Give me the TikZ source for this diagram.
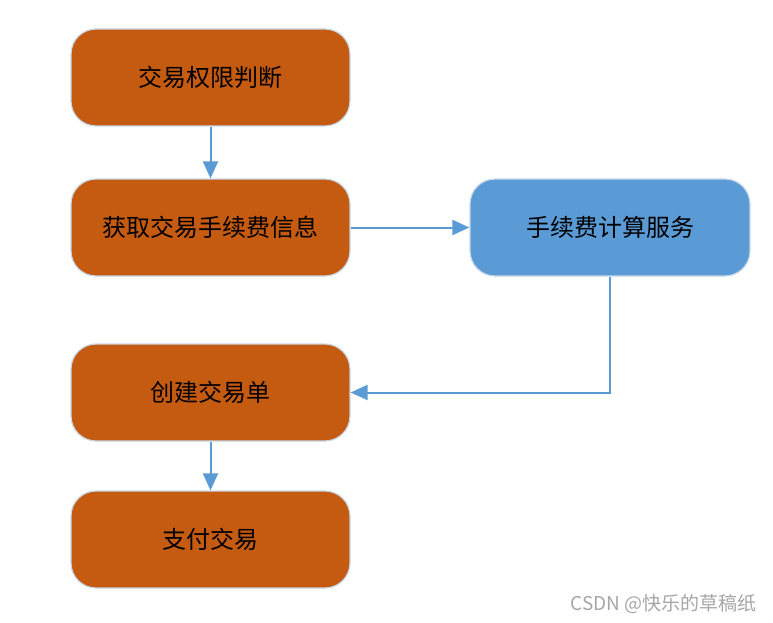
\documentclass[tikz,border=0pt]{standalone}
\usepackage{fontspec}
\setmainfont{Noto Sans CJK SC}
\newfontfamily\cjk{Noto Sans CJK SC}
\usetikzlibrary{arrows.meta}
\definecolor{boxorange}{HTML}{C55A11}
\definecolor{boxblue}{HTML}{5B9BD5}
\definecolor{linkblue}{HTML}{5B9BD5}
\definecolor{edgeglow}{HTML}{C9D8E8}
\definecolor{wmgray}{HTML}{A6A6A6}
\tikzset{
  flowbox/.style={rounded corners=25pt, minimum width=279pt, minimum height=97pt,
    inner sep=0pt, draw=edgeglow, line width=1.2pt, font=\cjk\fontsize{24}{28}\selectfont, text=black},
  orangebox/.style={flowbox, fill=boxorange},
  bluebox/.style={flowbox, fill=boxblue},
  link/.style={draw=linkblue, line width=2pt, -{Triangle[length=17pt,width=15pt]}}
}
\begin{document}
\begin{tikzpicture}[x=1pt,y=-1pt]
\useasboundingbox (0,0) rectangle (773,623);
\node[orangebox] (auth) at (210.5,77.5) {交易权限判断};
\node[orangebox] (fee) at (210.5,227.5) {获取交易手续费信息};
\node[bluebox, minimum width=280pt] (svc) at (610,227.5) {手续费计算服务};
\node[orangebox] (create) at (210.5,392.5) {创建交易单};
\node[orangebox] (pay) at (210.5,539.5) {支付交易};
\draw[link] (auth) -- (fee);
\draw[link] (fee) -- (svc);
\draw[link] (svc.south) |- (create.east);
\draw[link] (create) -- (pay);
\node[anchor=east, text=wmgray, font=\cjk\fontsize{19}{22}\selectfont, inner sep=0pt] (wm) at (757,604) {CSDN @快乐的草稿纸};
\end{tikzpicture}
\end{document}
